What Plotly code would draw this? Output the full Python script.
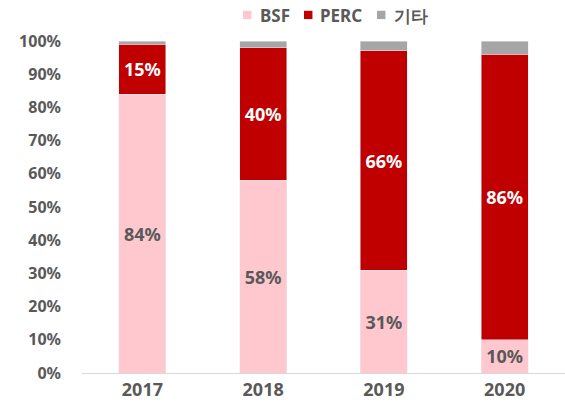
import plotly.graph_objects as go

years = ["2017", "2018", "2019", "2020"]
bsf = [84, 58, 31, 10]
perc = [15, 40, 66, 86]
other = [1, 2, 3, 4]
series_names = ["BSF", "PERC", "기타"]
series_colors = ["#FFC7CE", "#C00000", "#A6A6A6"]
ytick_vals = [0, 10, 20, 30, 40, 50, 60, 70, 80, 90, 100]
ytick_text = [f"{v}%" for v in ytick_vals]

font_family = "Noto Sans, Open Sans, sans-serif"
grey_text = "#595959"

fig = go.Figure()
fig.add_trace(go.Bar(
    name=series_names[0], x=years, y=bsf, marker_color=series_colors[0],
    text=[f"{v}%" for v in bsf], textposition="inside", insidetextanchor="middle",
    textfont=dict(color=grey_text, size=18, family=font_family, weight="bold"),
    constraintext="none",
))
fig.add_trace(go.Bar(
    name=series_names[1], x=years, y=perc, marker_color=series_colors[1],
    text=[f"{v}%" for v in perc], textposition="inside", insidetextanchor="middle",
    textfont=dict(color="white", size=18, family=font_family, weight="bold"),
    constraintext="none",
))
fig.add_trace(go.Bar(
    name=series_names[2], x=years, y=other, marker_color=series_colors[2],
    hoverinfo="y",
))

# custom compact legend (layout decoration, in paper coordinates)
legend_icon_x = [0.3333, 0.4596, 0.6108]
legend_text_x = [0.3644, 0.4886, 0.6418]
shapes = []
annotations = []
for name, color, ix, tx in zip(series_names, series_colors, legend_icon_x, legend_text_x):
    shapes.append(dict(type="rect", xref="paper", yref="paper",
                       x0=ix, x1=ix + 0.0175, y0=1.066, y1=1.091,
                       fillcolor=color, line=dict(width=0)))
    annotations.append(dict(xref="paper", yref="paper", x=tx, y=1.078,
                            xanchor="left", yanchor="middle", showarrow=False,
                            text=name,
                            font=dict(size=17, color=grey_text, family=font_family, weight="bold")))

fig.update_layout(
    barmode="stack",
    bargap=0.61,
    width=565, height=412,
    margin=dict(l=82, r=0, t=41, b=39),
    paper_bgcolor="white", plot_bgcolor="white",
    font=dict(family=font_family, color=grey_text, size=16),
    showlegend=False,
    shapes=shapes,
    annotations=annotations,
)
fig.update_xaxes(
    showline=True, linecolor="#D9D9D9", linewidth=1, ticks="",
    tickfont=dict(size=18, color=grey_text, weight="bold"),
    showgrid=False, automargin=False,
)
fig.update_yaxes(
    range=[0, 100], tickvals=ytick_vals, ticktext=ytick_text,
    showgrid=False, zeroline=False, showline=False,
    tickfont=dict(size=16, color=grey_text, weight="bold"),
    ticklabelstandoff=20, automargin=False,
)

fig.write_html("out.html", post_script="document.body.style.margin='0';",
               config={"displayModeBar": False})
